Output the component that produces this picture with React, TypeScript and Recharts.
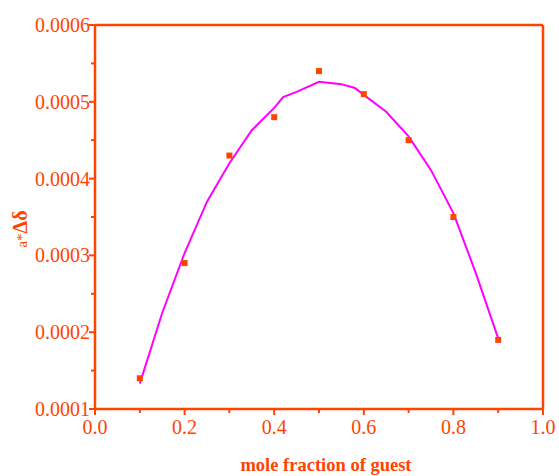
import { ComposedChart, Line, Scatter, XAxis, YAxis, ReferenceLine, Label } from "recharts";

const fractions = [0.1, 0.2, 0.3, 0.4, 0.5, 0.6, 0.7, 0.8, 0.9];
const measured = [0.00014, 0.00029, 0.00043, 0.00048, 0.00054, 0.00051, 0.00045, 0.00035, 0.00019];

const fitX = [0.1, 0.15, 0.2, 0.25, 0.3, 0.35, 0.4, 0.42, 0.45, 0.5, 0.55, 0.58, 0.6, 0.65, 0.7, 0.75, 0.8, 0.85, 0.9];
const fitY = [
  0.000133, 0.000225, 0.000303, 0.00037, 0.00042, 0.000463, 0.000492, 0.000506, 0.000513, 0.000526,
  0.000523, 0.000518, 0.000509, 0.000487, 0.000455, 0.000411, 0.000355, 0.000277, 0.000192,
];

const xMajor = [0, 0.2, 0.4, 0.6, 0.8, 1.0];
const xMinor = [0.1, 0.3, 0.5, 0.7, 0.9];
const yMajor = [0.0001, 0.0002, 0.0003, 0.0004, 0.0005, 0.0006];
const yMinor = [0.00015, 0.00025, 0.00035, 0.00045, 0.00055];

const ORANGE = "#ff4400";
const FONT = "'Liberation Serif', 'Times New Roman', serif";

const scatterData = fractions.map((x, i) => ({ x, y: measured[i] }));
const fitData = fitX.map((x, i) => ({ x, y: fitY[i] }));

const isMajor = (list: number[], v: number) => list.some((m) => Math.abs(m - v) < 1e-9);

function XTick({ x, y, payload }: any) {
  const major = isMajor(xMajor, payload.value);
  return (
    <g>
      <line x1={x} x2={x} y1={y} y2={y + (major ? 6 : 4)} stroke={ORANGE} strokeWidth={2} />
      {major && (
        <text x={x} y={y + 25} textAnchor="middle" fill={ORANGE} fontFamily={FONT} fontSize={20}>
          {payload.value.toFixed(1)}
        </text>
      )}
    </g>
  );
}

function YTick({ x, y, payload }: any) {
  const major = isMajor(yMajor, payload.value);
  return (
    <g>
      <line x1={x} x2={x - (major ? 6 : 4)} y1={y} y2={y} stroke={ORANGE} strokeWidth={2} />
      {major && (
        <text x={x - 5} y={y + 7} textAnchor="end" fill={ORANGE} fontFamily={FONT} fontSize={20}>
          {payload.value.toFixed(4)}
        </text>
      )}
    </g>
  );
}

const Square = (props: any) => (
  <rect x={props.cx - 3} y={props.cy - 3} width={6} height={6} fill={ORANGE} />
);

export default function App() {
  return (
    <div style={{ position: "absolute", left: 0, top: 0, background: "#fff" }}>
      <ComposedChart width={559} height={476} margin={{ top: 25, right: 16, bottom: 0, left: 0 }}>
        <XAxis
          type="number"
          dataKey="x"
          domain={[0, 1]}
          ticks={[...xMajor, ...xMinor].sort((a, b) => a - b)}
          interval={0}
          tick={<XTick />}
          tickLine={false}
          tickSize={0}
          tickMargin={0}
          height={67}
          axisLine={{ stroke: ORANGE, strokeWidth: 2.5 }}
          allowDataOverflow
        >
          <Label
            content={() => (
              <text x={326} y={471} textAnchor="middle" fill={ORANGE} fontFamily={FONT} fontSize={18.5} fontWeight="bold">
                mole fraction of guest
              </text>
            )}
          />
        </XAxis>
        <YAxis
          type="number"
          dataKey="y"
          domain={[0.0001, 0.0006]}
          ticks={[...yMajor, ...yMinor].sort((a, b) => a - b)}
          interval={0}
          tick={<YTick />}
          tickLine={false}
          tickSize={0}
          tickMargin={0}
          width={95}
          axisLine={{ stroke: ORANGE, strokeWidth: 2.5 }}
          allowDataOverflow
        >
          <Label
            content={() => (
              <text
                x={27}
                y={229}
                textAnchor="middle"
                fill={ORANGE}
                fontFamily={FONT}
                transform="rotate(-90 27 229)"
              >
                <tspan fontSize={15}>a*</tspan>
                <tspan fontSize={20} fontWeight="bold">Δδ</tspan>
              </text>
            )}
          />
        </YAxis>
        <ReferenceLine y={0.0006} stroke={ORANGE} strokeWidth={2.5} ifOverflow="extendDomain" />
        <ReferenceLine x={1} stroke={ORANGE} strokeWidth={2.5} ifOverflow="extendDomain" />
        <Line
          data={fitData}
          dataKey="y"
          type="linear"
          stroke="#ff00ff"
          strokeWidth={2}
          dot={false}
          isAnimationActive={false}
        />
        <Scatter data={scatterData} dataKey="y" shape={<Square />} isAnimationActive={false} />
      </ComposedChart>
    </div>
  );
}
